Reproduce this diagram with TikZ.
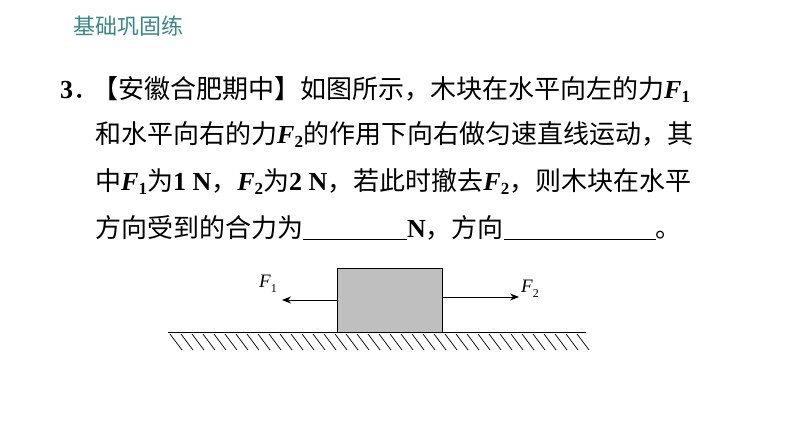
\documentclass[tikz,border=0pt]{standalone}
\usepackage{fontspec}
\setmainfont{Liberation Serif}
\newfontfamily\cjk{Noto Sans CJK SC}
\usetikzlibrary{positioning,arrows.meta}
\tikzset{txtline/.style={anchor=base west, inner sep=0pt, font=\fontsize{26}{26}\selectfont\cjk},
         force/.style={draw, -{Stealth[length=9pt,width=7pt]}, line width=0.8pt},
         flabel/.style={font=\fontsize{19}{19}\selectfont\itshape, inner sep=0pt}}
\newcommand{\Fb}[1]{{\rmfamily\bfseries\itshape F}\raisebox{-0.3ex}{\rmfamily\bfseries\fontsize{17}{17}\selectfont #1}}
\newcommand{\blank}[1]{\rule[-3pt]{#1pt}{1.2pt}}
\begin{document}
\begin{tikzpicture}[x=1pt,y=-1pt]
\useasboundingbox (0,0) rectangle (794,447);
%% title
\node[anchor=base west, inner sep=0pt, text={rgb,255:red,58;green,135;blue,135}, font=\fontsize{22}{22}\selectfont\cjk] (title) at (73,34) {基础巩固练};
%% question
\node[txtline] (num) at (60,98) {{\rmfamily\bfseries 3}．};
\node[txtline] (l1) at (92,98) {【安徽合肥期中】如图所示，木块在水平向左的力\Fb{1}};
\node[txtline] (l2) at (95,143) {和水平向右的力\Fb{2}的作用下向右做匀速直线运动，其};
\node[txtline] (l3) at (95,190) {中\Fb{1}为{\rmfamily\bfseries 1 N}，\Fb{2}为{\rmfamily\bfseries 2 N}，若此时撤去\Fb{2}，则木块在水平};
\node[txtline] (l4) at (95,237) {方向受到的合力为\blank{104}{\rmfamily\bfseries N}，方向\blank{152}。};
%% figure
\draw[fill={rgb,255:red,191;green,191;blue,191}, line width=0.8pt] (337,268) rectangle (442,332);
\coordinate (bl) at (337,300);
\coordinate (br) at (442,297);
\coordinate (l1end) at (282,300);
\coordinate (r1end) at (519,297);
\draw[force] (bl) -- (l1end);
\draw[force] (br) -- (r1end);
\node[flabel] (f1) at (268,284) {F\raisebox{-0.6ex}{\upshape\fontsize{12}{12}\selectfont 1}};
\node[flabel] (f2) at (530,289) {F\raisebox{-0.6ex}{\upshape\fontsize{12}{12}\selectfont 2}};
\draw[line width=0.8pt] (168,332) -- (586,332);
\foreach \x in {170,181,...,580}
  \draw[line width=0.7pt] (\x,334) -- (\x+12,350);
\end{tikzpicture}
\end{document}
